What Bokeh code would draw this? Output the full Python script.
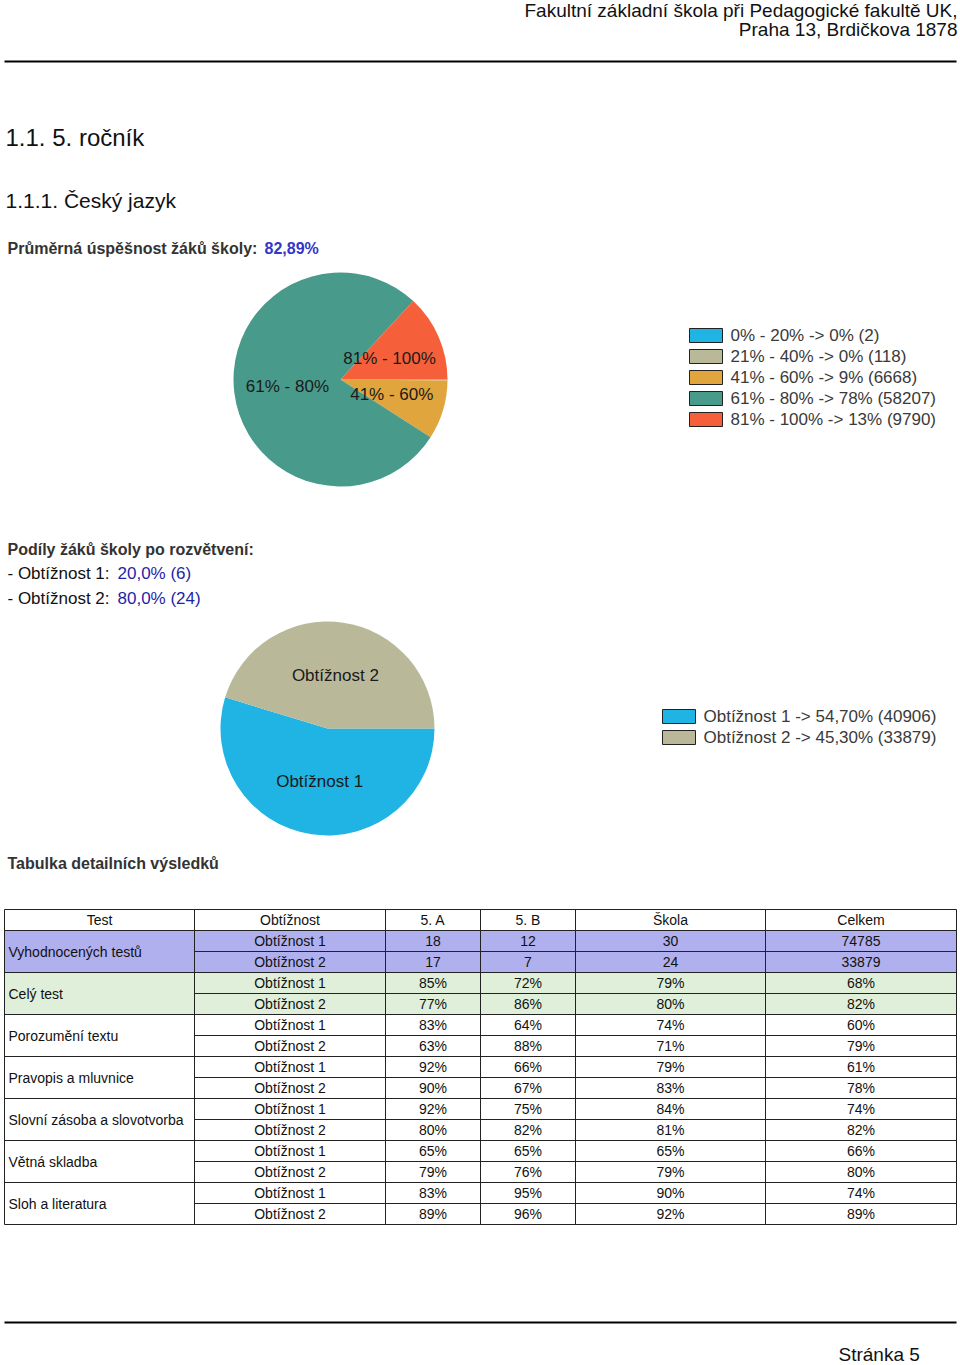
import numpy as np
from bokeh.plotting import figure
from bokeh.models import Range1d, ColumnDataSource
from bokeh.embed import file_html
from bokeh.resources import INLINE
from bokeh.core.properties import value

# ---------------- data ----------------
header_lines = ["Fakultní základní škola při Pedagogické fakultě UK,", "Praha 13, Brdičkova 1878"]
title_1 = "1.1. 5. ročník"
title_2 = "1.1.1. Český jazyk"
avg_label = "Průměrná úspěšnost žáků školy:"
avg_value = "82,89%"

range_labels = ["0% - 20%", "21% - 40%", "41% - 60%", "61% - 80%", "81% - 100%"]
range_counts = [2, 118, 6668, 58207, 9790]
range_pcts = ["0%", "0%", "9%", "78%", "13%"]
range_colors = ["#1FB4E4", "#B9B99A", "#E1A53D", "#489A8B", "#F5603A"]

share_title = "Podíly žáků školy po rozvětvení:"
share_labels = ["- Obtížnost 1: ", "- Obtížnost 2: "]
share_values = ["20,0% (6)", "80,0% (24)"]

diff_labels = ["Obtížnost 1", "Obtížnost 2"]
diff_counts = [40906, 33879]
diff_pcts = ["54,70%", "45,30%"]
diff_colors = ["#1FB4E4", "#B9B99A"]

table_title = "Tabulka detailních výsledků"
col_headers = ["Test", "Obtížnost", "5. A", "5. B", "Škola", "Celkem"]
tests = ["Vyhodnocených testů", "Celý test", "Porozumění textu", "Pravopis a mluvnice",
         "Slovní zásoba a slovotvorba", "Větná skladba", "Sloh a literatura"]
val_5a = ["18", "17", "85%", "77%", "83%", "63%", "92%", "90%", "92%", "80%", "65%", "79%", "83%", "89%"]
val_5b = ["12", "7", "72%", "86%", "64%", "88%", "66%", "67%", "75%", "82%", "65%", "76%", "95%", "96%"]
val_skola = ["30", "24", "79%", "80%", "74%", "71%", "79%", "83%", "84%", "81%", "65%", "79%", "90%", "92%"]
val_celkem = ["74785", "33879", "68%", "82%", "60%", "79%", "61%", "78%", "74%", "82%", "66%", "80%", "74%", "89%"]
group_fills = ["#B0B0EE", "#DFEFDA", "#FFFFFF", "#FFFFFF", "#FFFFFF", "#FFFFFF", "#FFFFFF"]
footer = "Stránka 5"

# ---------------- figure ----------------
FONT = value("Liberation Sans")
p = figure(width=960, height=1365, x_range=Range1d(0, 960), y_range=Range1d(-1365, 0),
           output_backend="svg", toolbar_location=None, min_border=0)
p.axis.visible = False
p.grid.visible = False
p.outline_line_color = None
p.background_fill_color = "white"


def txt(x, y, s, size, color="#111111", align="left", bold=False, baseline="middle"):
    p.text(x=[x], y=[-y], text=[s], text_font=FONT, text_font_size=size,
           text_color=color, text_align=align, text_baseline=baseline,
           text_font_style="bold" if bold else "normal")


# header
txt(957, 10, header_lines[0], "19px", "#111111", "right")
txt(957, 29, header_lines[1], "19px", "#111111", "right")
p.line(x=[4, 956], y=[-61, -61], line_color="black", line_width=2)

txt(5, 137, title_1, "24px", "#111111")
txt(5, 200, title_2, "21px", "#111111")

txt(7, 248, avg_label, "16px", "#333333", bold=True)
txt(264, 248, avg_value, "16px", "#3535C8", bold=True)


def pie(cx, cy, R, counts, colors, labels, min_frac=0.05):
    counts = np.array(counts, dtype=float)
    frac = counts / counts.sum()
    cum = np.concatenate([[0.0], np.cumsum(frac)])
    start = -cum[1:] * 2 * np.pi
    end = -cum[:-1] * 2 * np.pi
    src = ColumnDataSource(dict(x=[cx] * len(counts), y=[-cy] * len(counts),
                                s=list(start), e=list(end), c=list(colors)))
    p.wedge(x="x", y="y", radius=R, start_angle="s", end_angle="e", fill_color="c",
            line_color=None, direction="anticlock", source=src)
    mid = (start + end) / 2
    lx, ly, lt = [], [], []
    for f, m, lab in zip(frac, mid, labels):
        if f >= min_frac:
            lx.append(cx + 0.5 * R * np.cos(m))
            ly.append(-cy + 0.5 * R * np.sin(m))
            lt.append(lab)
    p.text(x=lx, y=ly, text=lt, text_font=FONT, text_font_size="17px", text_color="#1A1A1A",
           text_align="center", text_baseline="middle")


def legend(x0, y0, labels, colors, step=21):
    n = len(labels)
    ys = [-(y0 + i * step) for i in range(n)]
    p.quad(left=[x0] * n, right=[x0 + 33] * n, top=[y + 7 for y in ys], bottom=[y - 7 for y in ys],
           fill_color=colors, line_color="#222222", line_width=1)
    p.text(x=[x0 + 41] * n, y=ys, text=labels, text_font=FONT, text_font_size="17px",
           text_color="#3A3A3A", text_baseline="middle")


# pie 1
pie(340, 379, 107, range_counts, range_colors, range_labels)
legend(689, 335, [f"{l} -> {pc} ({c})" for l, pc, c in zip(range_labels, range_pcts, range_counts)],
       range_colors)

# shares
txt(7, 549, share_title, "16px", "#333333", bold=True)
share_x_val = [117, 117]
for i, (l, v) in enumerate(zip(share_labels, share_values)):
    yy = 573 + i * 25
    txt(7, yy, l, "17px", "#111111")
    txt(share_x_val[i], yy, v, "17px", "#1F1FA8")

# pie 2
pie(327, 728, 107, diff_counts, diff_colors, diff_labels)
legend(662, 716, [f"{l} -> {pc} ({c})" for l, pc, c in zip(diff_labels, diff_pcts, diff_counts)],
       diff_colors)

# table
txt(7, 863, table_title, "16px", "#333333", bold=True)
col_edges = [4, 194, 385, 480, 575, 765, 956]
top, head_h, row_h = 909, 21, 21
n_rows = len(val_5a)
bottom = top + head_h + n_rows * row_h

# fills
for g, fc in enumerate(group_fills):
    if fc != "#FFFFFF":
        y1 = top + head_h + g * 2 * row_h
        p.quad(left=[col_edges[0]], right=[col_edges[-1]], top=[-y1], bottom=[-(y1 + 2 * row_h)],
               fill_color=fc, line_color=None)

# header text
cx = [(col_edges[i] + col_edges[i + 1]) / 2 for i in range(6)]
p.text(x=cx, y=[-(top + head_h / 2)] * 6, text=col_headers, text_font=FONT, text_font_size="14px",
       text_color="#111111", text_align="center", text_baseline="middle")

# body text
row_y = [-(top + head_h + i * row_h + row_h / 2) for i in range(n_rows)]
for ci, vals in zip(range(1, 6), [[diff_labels[i % 2] for i in range(n_rows)], val_5a, val_5b, val_skola, val_celkem]):
    p.text(x=[cx[ci]] * n_rows, y=row_y, text=vals, text_font=FONT, text_font_size="14px",
           text_color="#111111", text_align="center", text_baseline="middle")
grp_y = [-(top + head_h + g * 2 * row_h + row_h) for g in range(len(tests))]
p.text(x=[8] * len(tests), y=grp_y, text=tests, text_font=FONT, text_font_size="14px",
       text_color="#111111", text_align="left", text_baseline="middle")

# grid lines
xs, ys = [], []
for x in col_edges:
    xs.append([x, x]); ys.append([-top, -bottom])
xs.append([col_edges[0], col_edges[-1]]); ys.append([-top, -top])
for i in range(n_rows + 1):
    y = top + head_h + i * row_h
    x_start = col_edges[0] if i % 2 == 0 else col_edges[1]
    xs.append([x_start, col_edges[-1]]); ys.append([-y, -y])
p.multi_line(xs=xs, ys=ys, line_color="#222222", line_width=1)

# footer
p.line(x=[4, 956], y=[-1322, -1322], line_color="black", line_width=2)
txt(838, 1354, footer, "19px", "#111111")

open("out.html", "w").write(file_html(p, INLINE))
